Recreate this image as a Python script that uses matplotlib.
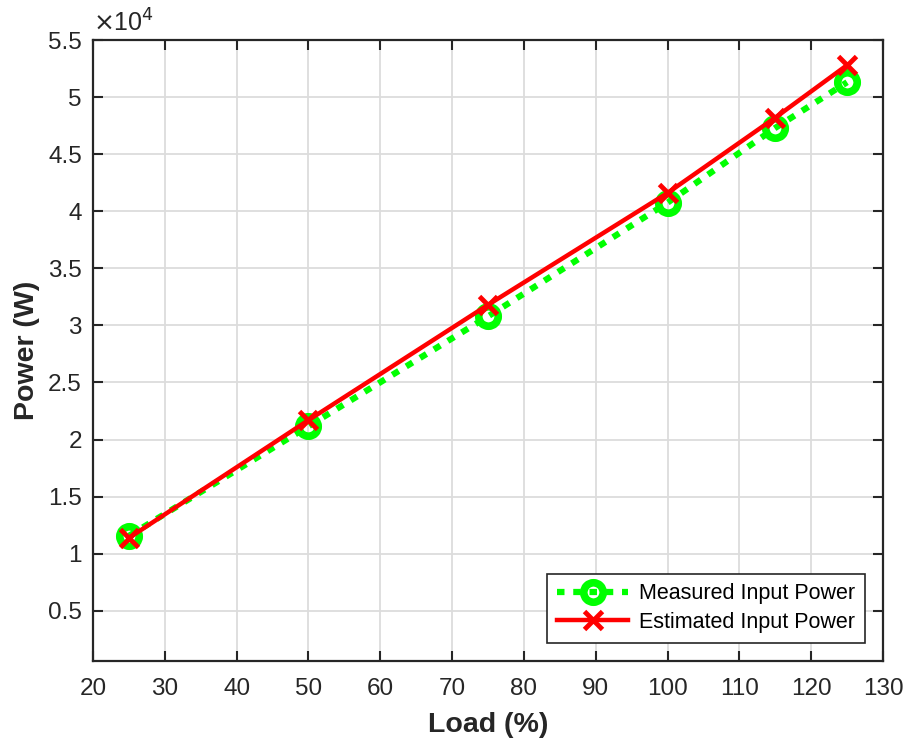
import matplotlib
matplotlib.use("Agg")
import matplotlib.pyplot as plt
from matplotlib.ticker import FuncFormatter

plt.rcParams['font.family'] = ['Liberation Sans', 'DejaVu Sans']

load = [25, 50, 75, 100, 115, 125]
measured = [11560, 21170, 30790, 40750, 47300, 51300]
estimated = [11380, 21700, 31800, 41600, 48200, 52800]

xticks = [20, 30, 40, 50, 60, 70, 80, 90, 100, 110, 120, 130]
yticks = [5000, 10000, 15000, 20000, 25000, 30000, 35000, 40000, 45000, 50000, 55000]

fig = plt.figure(figsize=(9.07, 7.46), dpi=100)
ax = fig.add_axes([93/907, 1-661/746, (883-93)/907, (661-40)/746])

dark = '#262626'
ax.plot(load, measured, color=(0, 1, 0), lw=4.5, dashes=(1.2, 1.4), dash_capstyle='butt',
        marker='o', ms=14, mfc='none', mec=(0, 1, 0), mew=5.5,
        label='Measured Input Power', zorder=3)
ax.plot(load, estimated, color=(1, 0, 0), lw=3.2, marker='x', ms=12.5, mew=3.5,
        label='Estimated Input Power', zorder=4)

ax.set_xlim(20, 130)
ax.set_ylim(600, 55000)
ax.set_xticks(xticks)
ax.set_yticks(yticks)
ax.yaxis.set_major_formatter(FuncFormatter(lambda v, p: '%g' % (v / 1e4)))

ax.grid(True, color='#dcdcdc', lw=1.3)
ax.set_axisbelow(True)
ax.tick_params(direction='in', length=7, width=1.5, colors=dark, labelsize=17.5,
               top=True, right=True)
ax.tick_params(axis='x', pad=12)
ax.tick_params(axis='y', pad=8)
for s in ax.spines.values():
    s.set_linewidth(1.6)
    s.set_color(dark)

ax.set_xlabel('Load (%)', fontsize=20.5, fontweight='bold', color=dark, labelpad=9)
ax.set_ylabel('Power (W)', fontsize=20.5, fontweight='bold', color=dark, labelpad=6)

ax.text(0.0, 1.006, r'$\times$10$^{4}$', transform=ax.transAxes, fontsize=18,
        color=dark, ha='left', va='bottom')

leg = ax.legend(loc='lower right', fontsize=15.5, frameon=True, fancybox=False,
                edgecolor=dark, framealpha=1, borderaxespad=0.85,
                handlelength=3.3, handletextpad=0.5, borderpad=0.45, labelspacing=0.35)
leg.get_frame().set_linewidth(1.2)

fig.savefig('out.png', dpi=100)
